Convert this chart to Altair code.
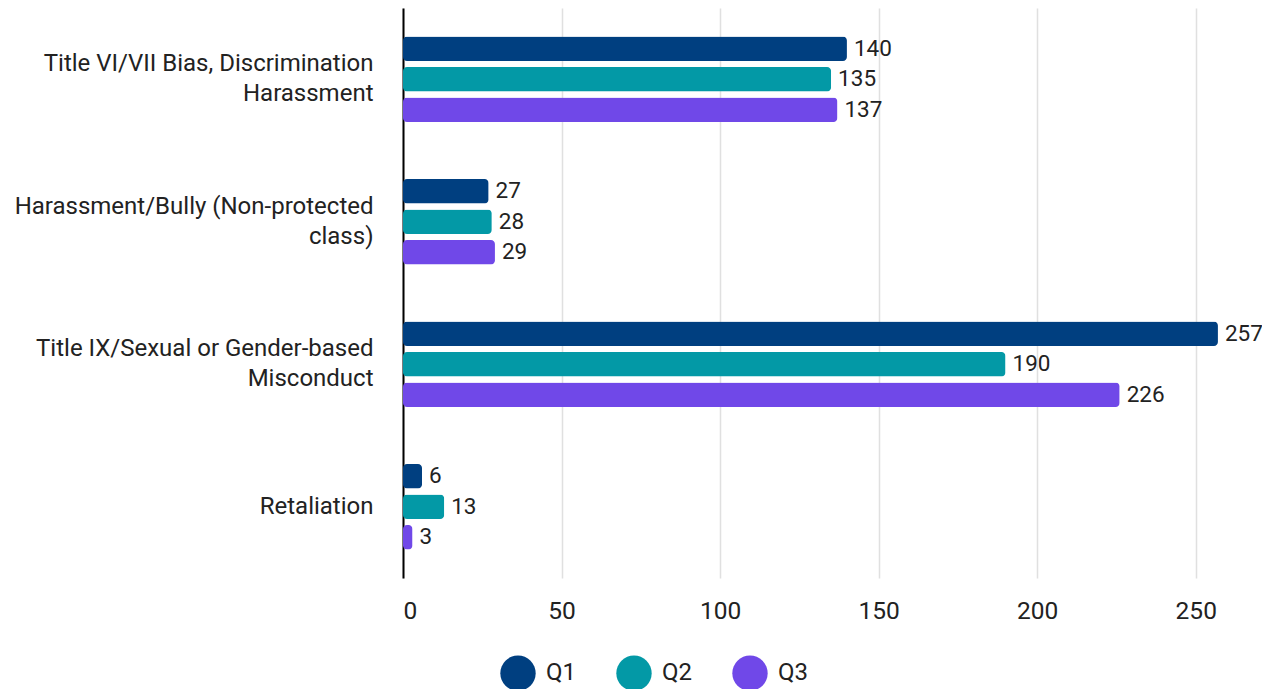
import altair as alt
import pandas as pd
import json

categories = [
    "Title VI/VII Bias, Discrimination Harassment",
    "Harassment/Bully (Non-protected class)",
    "Title IX/Sexual or Gender-based Misconduct",
    "Retaliation",
]
category_lines = [
    ["Title VI/VII Bias, Discrimination", "Harassment"],
    ["Harassment/Bully (Non-protected", "class)"],
    ["Title IX/Sexual or Gender-based", "Misconduct"],
    ["Retaliation"],
]
quarters = ["Q1", "Q2", "Q3"]
q1 = [140, 27, 257, 6]
q2 = [135, 28, 190, 13]
q3 = [137, 29, 226, 3]
colors = ["#003f80", "#0399a6", "#7048e8"]

rows = []
for i, c in enumerate(categories):
    for q, vals in zip(quarters, [q1, q2, q3]):
        rows.append({"category": c, "quarter": q, "value": vals[i]})
df = pd.DataFrame(rows)

label_map = json.dumps({c: l for c, l in zip(categories, category_lines)})
label_expr = f"{label_map}[datum.label]"
single_line = json.dumps([c for c, l in zip(categories, category_lines) if len(l) == 1])

font = "Roboto"

y_axis = alt.Axis(
    title=None,
    labelExpr=label_expr,
    labelFontSize=24,
    labelFont=font,
    labelColor="#222222",
    labelLineHeight=30,
    labelPadding=30,
    labelLimit=400,
    labelOffset={"condition": {"test": f"indexof({single_line}, datum.label) >= 0", "value": 0}, "value": -15},
    ticks=False,
    domain=True,
    domainColor="#000000",
    domainWidth=2,
    grid=False,
)
y_enc = alt.Y(
    "category:N",
    sort=categories,
    scale=alt.Scale(paddingInner=0.4, paddingOuter=0.2),
    axis=y_axis,
)
yoff = alt.YOffset("quarter:N", sort=quarters, scale=alt.Scale(paddingInner=0.2))
x_axis = alt.Axis(
    title=None,
    values=[0, 50, 100, 150, 200, 250],
    labelFontSize=24.5,
    labelFont=font,
    labelColor="#222222",
    labelPadding=21,
    ticks=False,
    domain=False,
    grid=True,
    gridColor="#e0e0e0",
    gridWidth=1.5,
)
x_enc = alt.X(
    "value:Q",
    scale=alt.Scale(domain=[0, 269], nice=False),
    axis=x_axis,
)
color_enc = alt.Color(
    "quarter:N",
    sort=quarters,
    scale=alt.Scale(domain=quarters, range=colors),
    legend=alt.Legend(
        title=None,
        orient="none",
        direction="horizontal",
        legendX=97,
        legendY=647,
        symbolType="circle",
        symbolSize=1250,
        symbolStrokeWidth=0,
        labelFontSize=24,
        labelFont=font,
        labelColor="#222222",
        columnPadding=40,
        labelOffset=10,
    ),
)

bars = alt.Chart(df).mark_bar(cornerRadius=4).encode(
    x=x_enc, y=y_enc, yOffset=yoff, color=color_enc
)
text = alt.Chart(df).mark_text(
    align="left", baseline="middle", dx=7, fontSize=22.5, font=font, color="#222222"
).encode(
    x=alt.X("value:Q"),
    y=alt.Y("category:N", sort=categories),
    yOffset=yoff,
    text="value:Q",
)

chart = (
    alt.layer(bars, text)
    .properties(
        width=853,
        height=570,
        autosize=alt.AutoSizeParams(type="none"),
        padding={"left": 395, "top": 0, "right": 6, "bottom": 111},
        background="white",
    )
    .configure_view(strokeWidth=0, stroke="transparent")
)

chart.save("out.html", embed_options={"renderer": "svg", "actions": False})
